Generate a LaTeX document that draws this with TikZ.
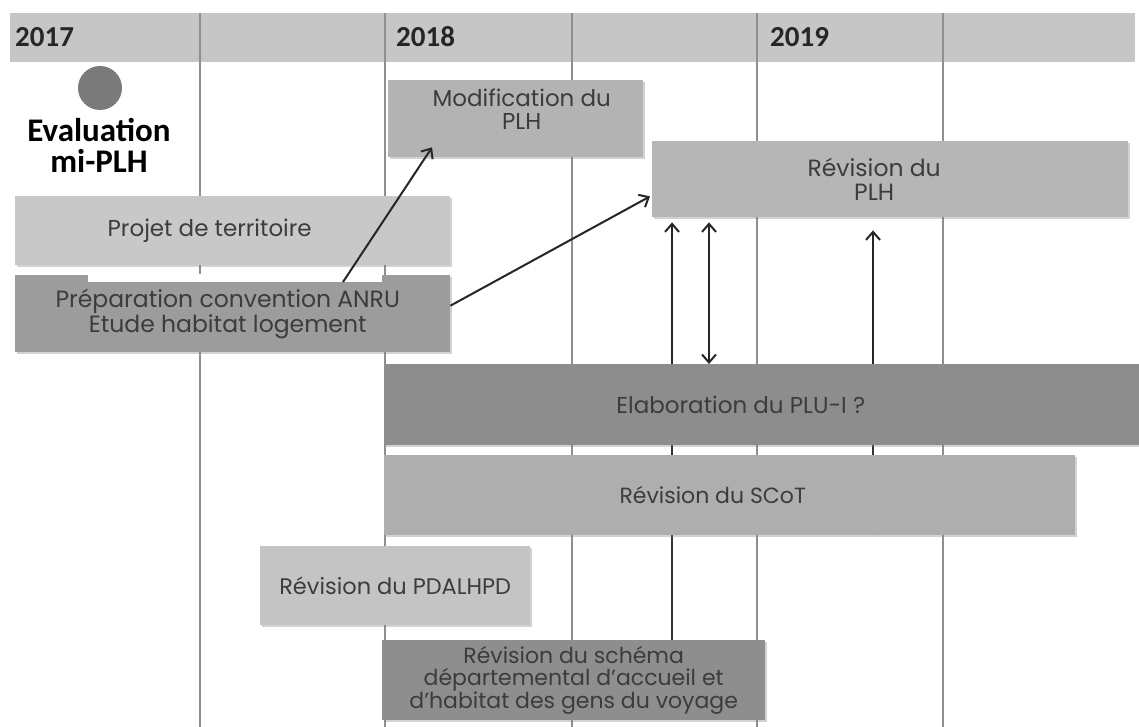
\documentclass[tikz,border=0pt]{standalone}
\usepackage{fontspec}
\setmainfont{Poppins}
\newfontfamily\yearfont{Carlito}
\usetikzlibrary{arrows.meta,shadows,backgrounds}
\definecolor{hdr}{HTML}{C6C6C6}
\definecolor{gridc}{HTML}{8F8F8F}
\definecolor{circc}{HTML}{7A7A7A}
\definecolor{txt}{HTML}{3C3C3C}
\definecolor{cmod}{HTML}{B3B3B3}
\definecolor{cplh}{HTML}{B6B6B6}
\definecolor{cproj}{HTML}{C8C8C8}
\definecolor{cprep}{HTML}{9C9C9C}
\definecolor{celab}{HTML}{8D8D8D}
\definecolor{cscot}{HTML}{AEAEAE}
\definecolor{cpdal}{HTML}{C4C4C4}
\definecolor{csch}{HTML}{8E8E8E}
\newcommand{\fs}[1]{\fontsize{#1}{24}\selectfont}
\begin{document}
\begin{tikzpicture}[x=1pt,y=-1pt,
  box/.style={anchor=north west, inner sep=0pt, align=center, text=txt,
    font=\fs{22.5},
    drop shadow={shadow xshift=1.5pt, shadow yshift=-2pt, opacity=.35, fill=gray}},
  year/.style={anchor=west, inner sep=0pt, font=\yearfont\bfseries\fontsize{29}{30}\selectfont, text=black!85},
  evalt/.style={align=center, inner sep=0pt, font=\yearfont\bfseries\fontsize{33}{31}\selectfont},
  arr/.style={line width=2pt, black!85, -{Straight Barb[length=8pt,width=14pt]}},
  darr/.style={line width=2pt, black!85, {Straight Barb[length=8pt,width=14pt]}-{Straight Barb[length=8pt,width=14pt]}},
  conn/.style={line width=2pt, black!80},
  gridl/.style={line width=1.1pt, gridc}]
\useasboundingbox (0,0) rectangle (1139,727);

% year labels
\node[year] (y2017) at (15,37) {2017};
\node[year] (y2018) at (396,37) {2018};
\node[year] (y2019) at (770,37) {2019};

% evaluation marker
\node[circle, fill=circc, minimum size=44pt, inner sep=0pt] (dot) at (100,88) {};
\node[evalt] (eval) at (99,145) {Evaluation\\mi-PLH};

% boxes
\node[box, fill=cmod, minimum width=255pt, minimum height=77pt, font=\fontsize{23}{23}\selectfont] (mod) at (388,80) {\hspace*{12pt}Modification du\\\hspace*{12pt}PLH\\[-4pt]};
\node[box, fill=cplh, minimum width=476pt, minimum height=76pt, font=\fontsize{23.5}{23.5}\selectfont] (plh) at (652,141) {\hspace*{-32pt}Révision du\\\hspace*{-32pt}PLH};
\node[box, fill=cproj, minimum width=435pt, minimum height=69pt, font=\fs{23}] (proj) at (15,196) {\hspace*{-46pt}Projet de territoire};
\node[box, fill=cprep, minimum width=435pt, minimum height=77pt, font=\fontsize{23.5}{25}\selectfont] (prep) at (15,275) {\hspace*{-10pt}Préparation convention ANRU\\\hspace*{-10pt}Etude habitat logement};
\fill[white] (88,274) rectangle (382,282);
\node[box, fill=celab, minimum width=755pt, minimum height=81pt, font=\fs{23}] (elab) at (384,364) {\hspace*{-42pt}Elaboration du PLU-I ?};
\node[box, fill=cscot, minimum width=691pt, minimum height=80pt, font=\fs{22}] (scot) at (384,455) {\hspace*{-34pt}Révision du SCoT};
\node[box, fill=cpdal, minimum width=270pt, minimum height=79pt] (pdal) at (260,546) {Révision du PDALHPD};
\node[box, fill=csch, minimum width=383pt, minimum height=80pt, font=\fontsize{22}{22.5}\selectfont] (sch) at (382,640) {Révision du schéma\\départemental d'accueil et\\d'habitat des gens du voyage};

% background: header, grid, hidden connectors
\begin{scope}[on background layer]
  \fill[white] (0,0) rectangle (1139,727);
  \fill[hdr] (10,13) rectangle (1135,62);
  \foreach \gx in {200,385,572,757,943}
    \draw[gridl] (\gx,13) -- (\gx,727);
  \draw[conn] ([xshift=290pt]sch.north west) -- ([xshift=288pt]elab.south west);
  \draw[conn] ([xshift=489pt]scot.south west) -- ([xshift=489pt]elab.south west);
\end{scope}

% arrows
\draw[arr] ([xshift=328pt,yshift=-7pt]prep.north west) -- ([xshift=44pt,yshift=10pt]mod.south west);
\draw[arr] ([yshift=8pt]prep.east) -- ([xshift=-2pt,yshift=21pt]plh.south west);
\draw[arr] ([xshift=288pt]elab.north west) -- ([xshift=20pt,yshift=-5pt]plh.south west);
\draw[darr] ([xshift=325pt]elab.north west) -- ([xshift=57pt,yshift=-5pt]plh.south west);
\draw[arr] ([xshift=489pt]elab.north west) -- ([xshift=221pt,yshift=-13pt]plh.south west);
\end{tikzpicture}
\end{document}
